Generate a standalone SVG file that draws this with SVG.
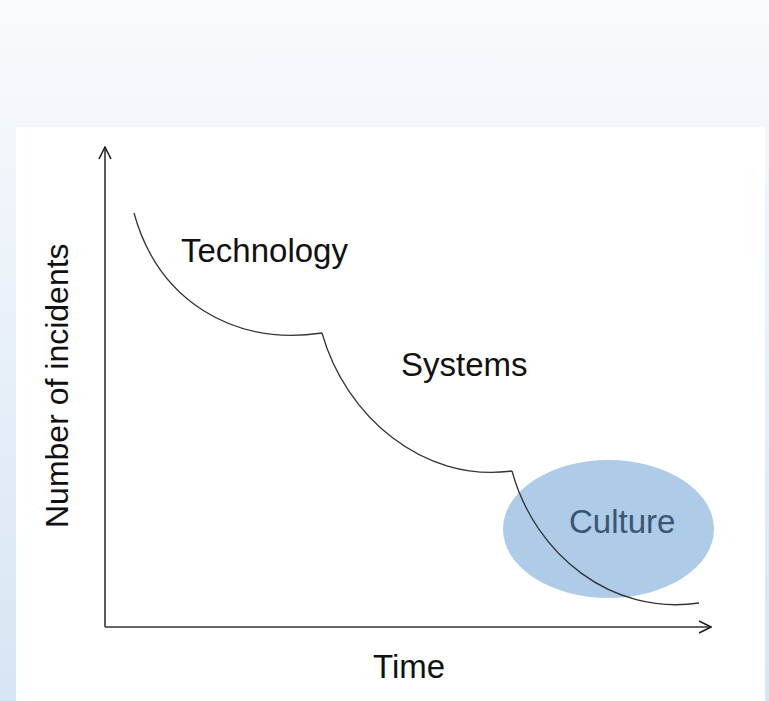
<svg xmlns="http://www.w3.org/2000/svg" width="769" height="701" viewBox="0 0 769 701">
  <defs>
    <linearGradient id="bg" x1="0" y1="0" x2="0" y2="1">
      <stop offset="0" stop-color="#f9fbfd"/>
      <stop offset="1" stop-color="#d7e5f3"/>
    </linearGradient>
    <marker id="arrow" viewBox="0 0 14 14" refX="13" refY="7" markerWidth="14" markerHeight="14" markerUnits="userSpaceOnUse" orient="auto">
      <path d="M1,1 L13,7 L1,13" fill="none" stroke="#222" stroke-width="1.6"/>
    </marker>
  </defs>
  <style>
    .lbl { font-family: "Liberation Sans", Arial, sans-serif; font-size: 33px; fill: #111; }
    .axis { stroke: #333; stroke-width: 1.6; fill: none; }
    .curve { stroke: #333; stroke-width: 1.3; fill: none; }
  </style>
  <rect x="0" y="0" width="769" height="701" fill="url(#bg)"/>
  <rect x="16" y="127" width="749" height="574" fill="#ffffff"/>

  <g id="culture">
    <ellipse cx="608.5" cy="529" rx="105.5" ry="69" fill="#aecbe8"/>
    <text class="lbl" x="569" y="533" style="fill:#3a5673">Culture</text>
  </g>

  <g id="connectors">
    <path class="axis" d="M105,627 L105,147" marker-end="url(#arrow)"/>
    <path class="axis" d="M105,627 L711,627" marker-end="url(#arrow)"/>
    <path class="curve" d="M134,213 C158,300 232,346 322,333"/>
    <path class="curve" d="M322,333 C345,415 422,483 512,471"/>
    <path class="curve" d="M512,471 C535,555 612,616 699,603"/>
  </g>

  <g id="technology">
    <text class="lbl" x="181" y="262">Technology</text>
  </g>
  <g id="systems">
    <text class="lbl" x="401" y="376">Systems</text>
  </g>
  <g id="time">
    <text class="lbl" x="373" y="678">Time</text>
  </g>
  <g id="ylabel">
    <text class="lbl" x="0" y="0" style="font-size:32px" transform="translate(68,528) rotate(-90)">Number of incidents</text>
  </g>
</svg>
